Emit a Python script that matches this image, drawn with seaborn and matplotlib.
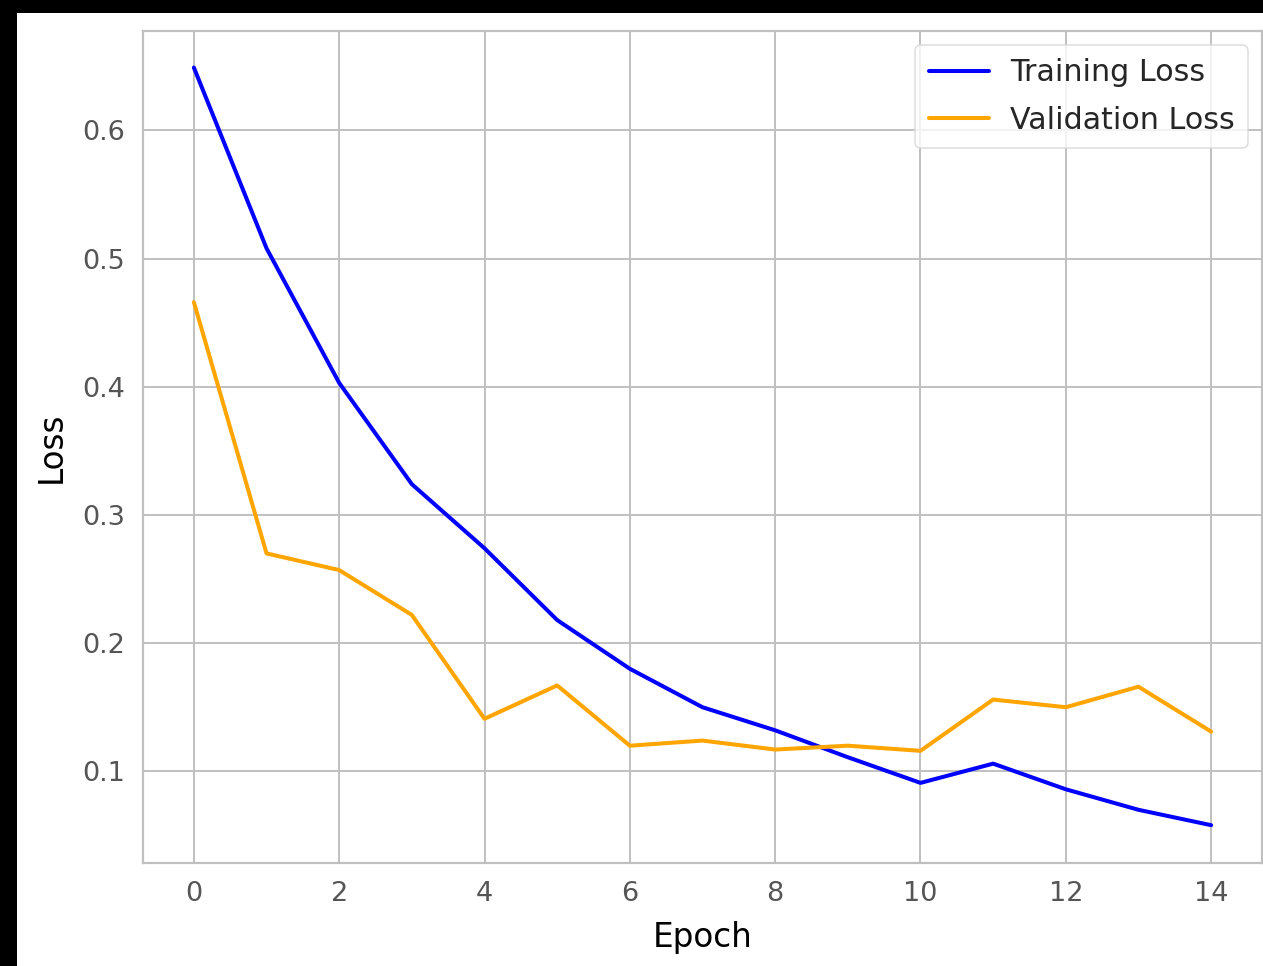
import matplotlib
matplotlib.use("Agg")
import matplotlib.pyplot as plt
import seaborn as sns
import pandas as pd
from matplotlib.patches import Rectangle

# Loss history per epoch
epochs = list(range(15))
training_loss = [0.649, 0.508, 0.403, 0.324, 0.274, 0.218, 0.180, 0.150,
                 0.132, 0.111, 0.091, 0.106, 0.086, 0.070, 0.058]
validation_loss = [0.466, 0.270, 0.257, 0.222, 0.141, 0.167, 0.120, 0.124,
                   0.117, 0.120, 0.116, 0.156, 0.150, 0.166, 0.131]
series_names = ["Training Loss", "Validation Loss"]
series_colors = ["blue", "orange"]
x_ticks = list(range(0, 15, 2))
y_ticks = [0.1, 0.2, 0.3, 0.4, 0.5, 0.6]

df = pd.concat([
    pd.DataFrame({"Epoch": epochs, "Loss": training_loss, "Series": series_names[0]}),
    pd.DataFrame({"Epoch": epochs, "Loss": validation_loss, "Series": series_names[1]}),
])

sns.set_style("whitegrid", {"grid.color": "#c0c0c0", "axes.edgecolor": "#c0c0c0"})
plt.rcParams["font.family"] = ["DejaVu Sans"]

W, H = 1263, 966
fig = plt.figure(figsize=(W / 100, H / 100), dpi=100, facecolor="black")
# white canvas area inside the dark frame
fig.patches.append(Rectangle((17 / W, 0), 1 - 17 / W, (H - 13) / H,
                             transform=fig.transFigure, facecolor="white",
                             edgecolor="none", zorder=-10))

ax = fig.add_axes([143 / W, (H - 863) / H, (1262 - 143) / W, (863 - 31) / H])
ax.set_zorder(5)

sns.lineplot(data=df, x="Epoch", y="Loss", hue="Series",
             palette=dict(zip(series_names, series_colors)),
             linewidth=2.9, ax=ax)

ax.set_xticks(x_ticks)
ax.set_yticks(y_ticks)
ax.set_xlim(-0.7, 14.7)
ax.set_ylim(0.0285, 0.6775)
ax.grid(True, color="#c0c0c0", linewidth=1.4)
for s in ax.spines.values():
    s.set_color("#c0c0c0")
    s.set_linewidth(1.6)

ax.tick_params(axis="both", length=0, labelsize=19.5, labelcolor="#555555")
ax.tick_params(axis="x", pad=13)
ax.tick_params(axis="y", pad=13)
ax.set_xlabel("Epoch", fontsize=23.5, color="black", labelpad=10)
ax.set_ylabel("Loss", fontsize=23.5, color="black", labelpad=10)

leg = ax.legend(title=None, fontsize=21.7, loc="upper right", frameon=True,
                handlelength=2.0, handletextpad=0.7, labelspacing=0.62,
                borderpad=0.45, borderaxespad=0.45)
leg.get_frame().set_edgecolor("#d8d8d8")
leg.get_frame().set_linewidth(1.2)
for line in leg.get_lines():
    line.set_linewidth(2.9)

fig.savefig("out.png", dpi=100, facecolor=fig.get_facecolor())
